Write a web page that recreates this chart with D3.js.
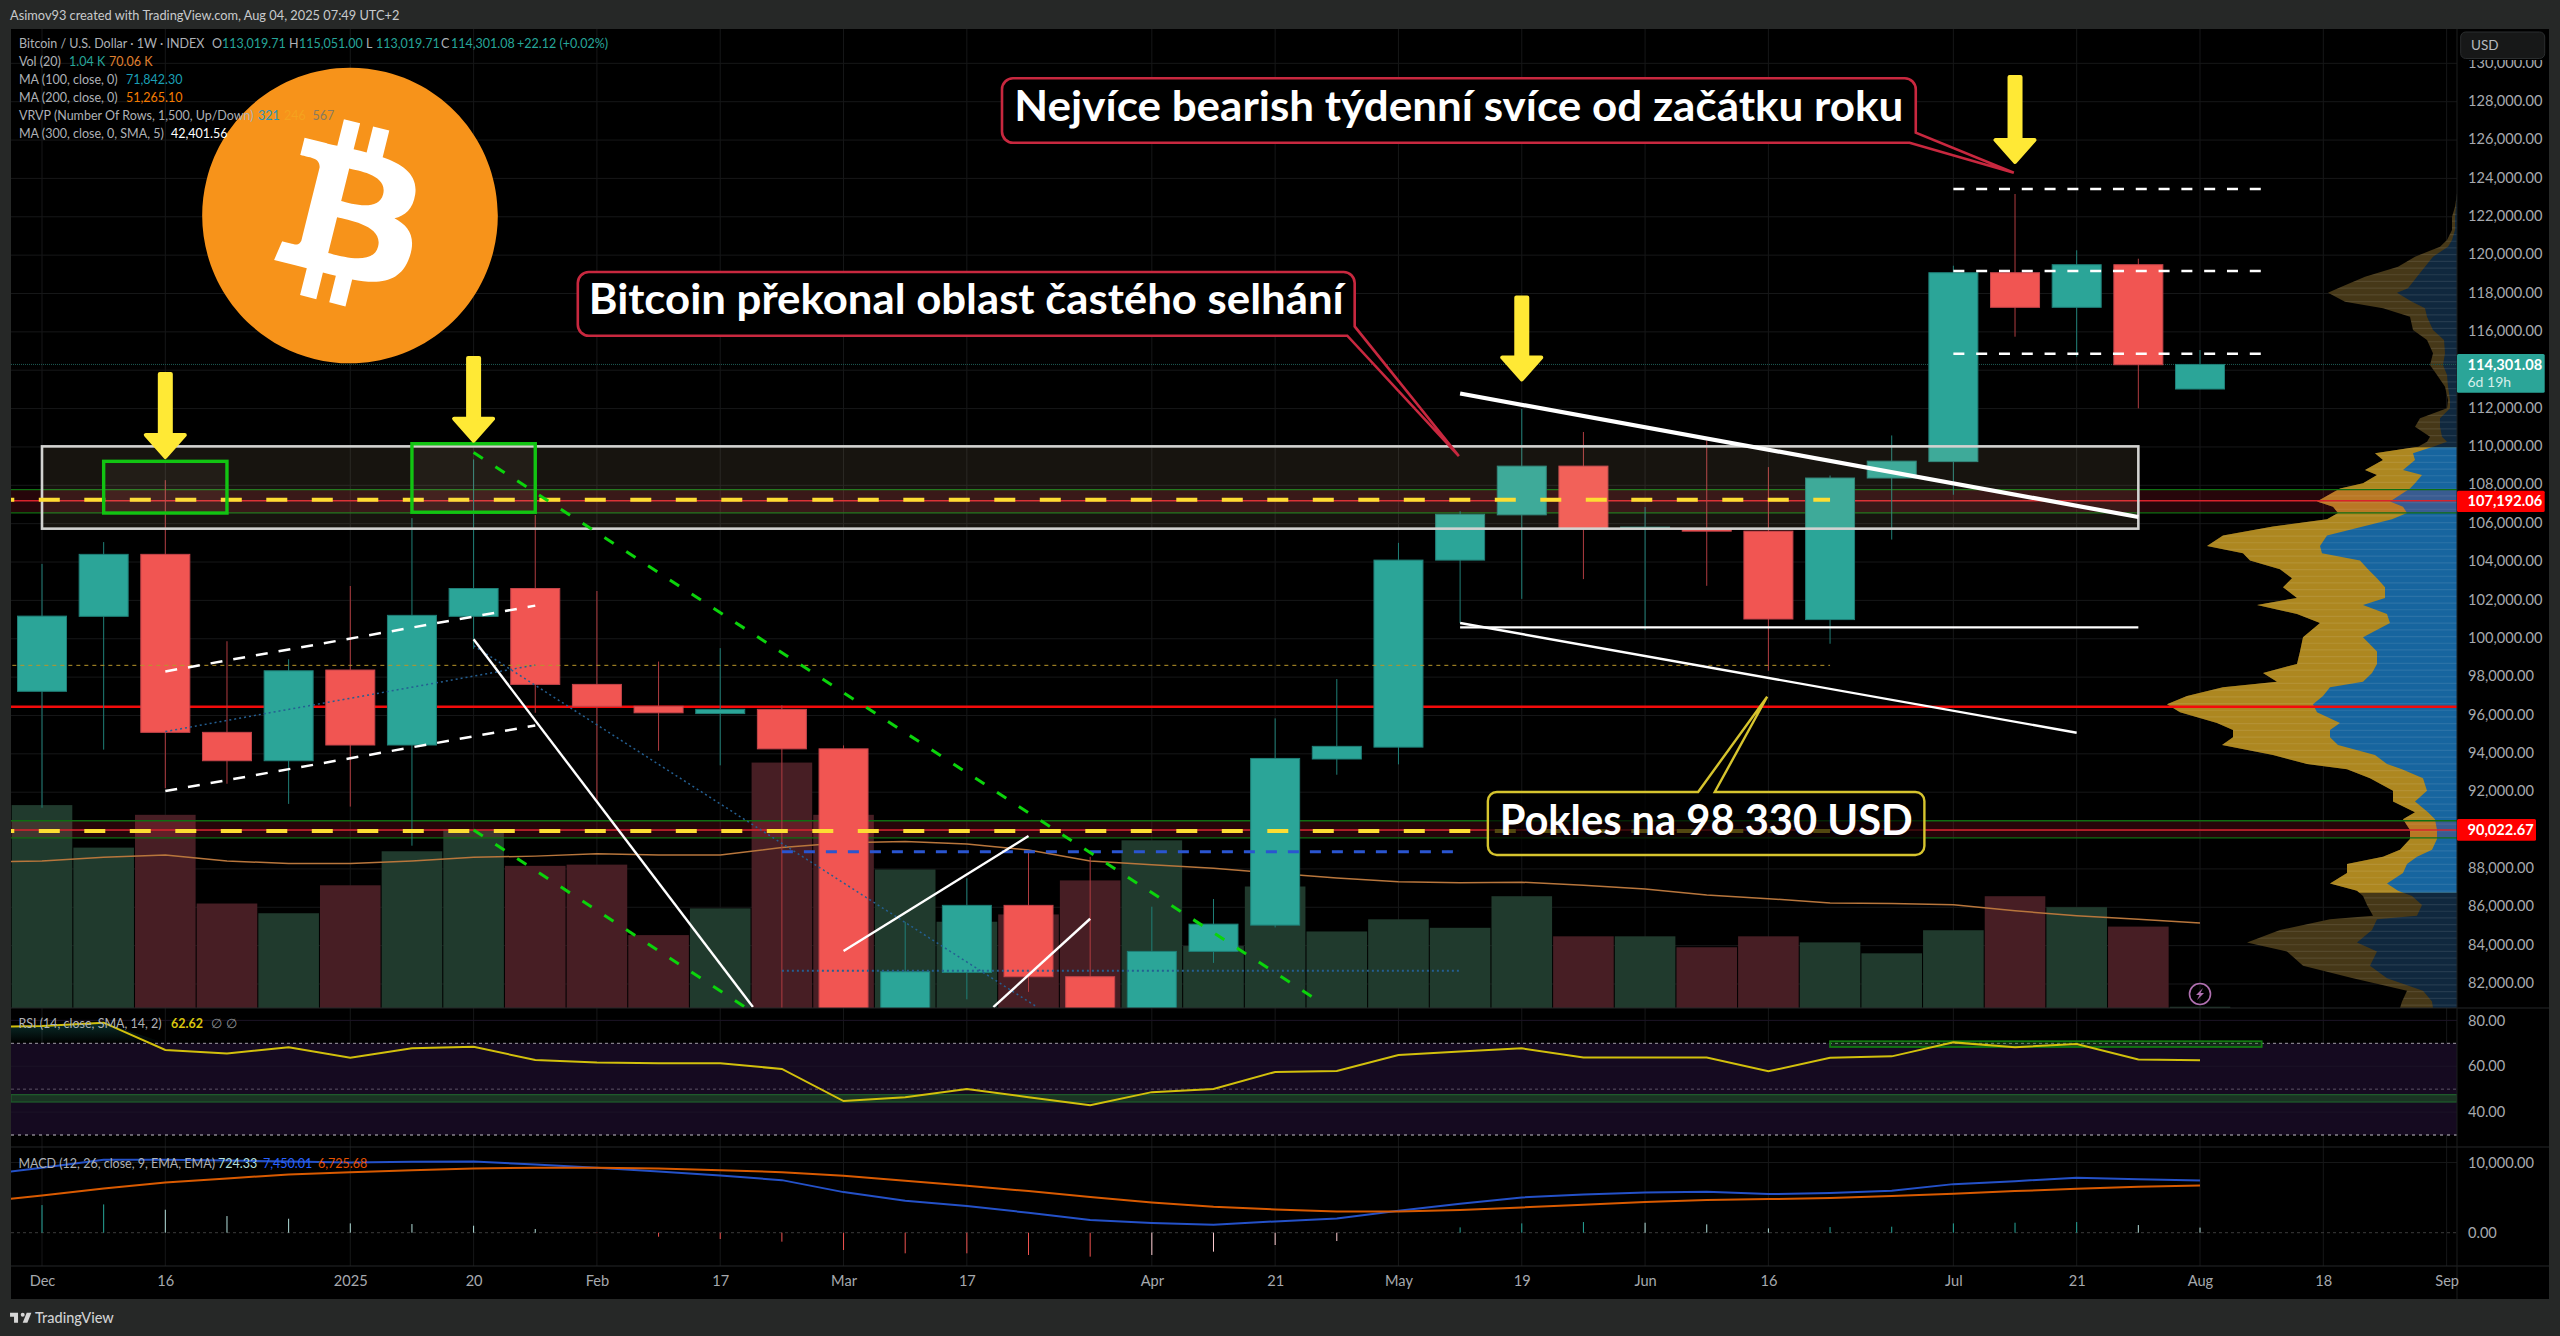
<!DOCTYPE html>
<html>
<head>
<meta charset="utf-8">
<title>BTC weekly</title>
<script src="https://cdnjs.cloudflare.com/ajax/libs/d3/7.8.5/d3.min.js"></script>
<style>
  html, body { margin: 0; background: #262827; }
  svg { display: block; }
  text { font-family: "Lato", "Noto Sans", sans-serif; }
</style>
</head>
<body>
<script>
// weekly candles, index 0 = 2 Dec 2024
var opens  = [97260,101170,104400,95120,93640,98370,94460,101170,102620,97620,96480,96100,96320,94260,80700,82600,86100,82380,78300,83700,85070,93730,94350,104100,106460,109000,105720,105720,105610,101000,108380,109235,119084,117280,119501,113019.71];
var highs  = [103900,105040,108270,99870,98930,102750,106290,109350,106450,102490,98810,99510,96530,94440,85240,87510,88890,88630,86030,86430,95850,97900,105000,106650,111980,110780,106870,110340,108950,108510,110600,119449,123187,120252,119814,115051];
var lows   = [91190,94220,92210,92440,91390,91250,89210,99470,96140,91550,94160,93400,78250,76600,76600,81200,81590,74500,74600,83100,84950,92910,93450,100820,102080,103110,100450,102760,98330,99740,105170,107509,115747,114704,112014,113019.71];
var closes = [101180,104400,95120,93640,98330,94460,101220,102620,97620,96480,96140,96320,94260,80700,82640,86100,82380,78300,83700,85120,93760,94390,104100,106490,109000,105720,105820,105610,101030,108380,109260,119084,117280,119501,114287,114301.08];

var volumes = [167,132,159,86,78,101,129,147,117,118,60,82,202,159,114,71,77,105,138,51,100,63,73,66,92,59,59,50,59,54,45,64,92,83,67,1.04];
// these three start one week before the first candle (index -1)
var volumeMA = [120,121,124,126,121,119,119,121,124,125,127,126,126,132,136,137,135,130,121,118,115,111,107,104,103,103.5,101,98,93,90,86.5,86,85,80,76,73,70.06];
var rsiValues = [77,77.6,79,67.1,65.6,68.3,63.7,67.8,68.5,62.7,61.6,61.3,61.3,58.8,44.8,46.5,50.1,46.5,43,48.7,50.1,57.5,57.9,64.9,66.4,67.8,63.8,63.8,63.8,57.8,63.7,64.3,70.4,68.3,69.7,62.9,62.62];
var macdValues = [8200,9242,10379,10379,10284,10142,10000,10095,10142,9716,9242,8720,8152,7488,5782,4550,3791,2844,1801,1374,1137,1611,2038,3128,4123,5024,5450,5735,5829,5498,5660,5972,6919,7346,7820,7630,7450.01];
var signalValues = [4400,5308,6303,7156,7725,8294,8626,8910,9147,9242,9242,9147,8910,8626,8104,7393,6682,5924,5071,4313,3697,3318,3033,3033,3223,3602,3981,4360,4645,4787,4950,5213,5545,5924,6256,6540,6725.68];
var macdHist = [3934,4028,3270,2370,1990,1327,1232,995,521,-47,-569,-900,-1280,-2464,-2938,-2938,-3175,-3412,-3175,-2701,-1754,-1185,0,758,1327,1516,1422,1185,616,800,853,1327,1422,1516,1090,724.33];

var priceTicks = d3.range(82000, 130001, 2000);
var rsiTicks = [80, 60, 40];
var macdTicks = [10000, 0];
var timeTickIdx = [0,2,5,7,9,11,13,15,18,20,22,24,26,28,31,33,35,37,39];
var timeTickLabels = ["Dec","16","2025","20","Feb","17","Mar","17","Apr","21","May","19","Jun","16","Jul","21","Aug","18","Sep"];

// visible range volume profile: price level, up volume, total volume
var vpPrice = [123170,122474,121953,121258,120736,120389,119867,119346,118825,118216,117990,117521,117174,116739,116044,115522,114827,114219,113698,113089,112394,111960,111438,111004,110482,110221,109961,109613,109266,108744,108483,108049,107788,107106,106827,106510,106175,105802,105337,104778,104406,104033,103568,103103,102637,102078,101706,101241,100775,100030,99285,98634,98168,97703,97423,96958,96529,96120,95561,95189,94817,94407,93886,93420,93141,92676,92024,91465,90907,90534,89976,89510,88952,88579,88207,87741,87182,86810,86531,86065,85507,85321,84762,84110,83645,82900,82249,81597,81038,80703];
var vpUp = [0,1,2,2,5,9,24,32,40,49,60,45,32,30,24,13,12,14,10,9,7,7,17,17,15,10,24,44,42,54,35,42,47,67,54,50,65,94,130,137,135,97,89,80,72,72,94,70,67,94,80,80,85,94,127,134,144,140,117,127,127,119,82,70,55,34,30,42,29,22,20,20,25,40,50,54,70,59,45,35,40,80,85,100,80,87,70,34,25,24];
var vpTotal = [0,2,5,5,10,17,42,59,92,119,129,112,74,47,44,30,24,27,20,12,9,10,37,42,27,30,39,82,74,92,80,94,117,140,124,119,130,184,234,250,214,207,177,165,174,160,200,160,137,154,157,160,194,180,234,270,290,277,240,224,224,235,184,150,110,87,64,64,42,54,47,47,57,74,110,110,127,100,94,90,84,127,177,210,170,154,104,50,55,57];

// horizontal levels
var pocPrice = 96455;
var zoneTop = {low: 106560, mid: 107192.06, high: 107780};
var zoneBottom = {low: 89620, mid: 90022.67, high: 90510};
var lastPrice = 114301.08;
var dottedYellowPrice = 98614;

// drawings in chart coordinates: [week, price, week, price]
var whiteBox = [0, 110030, 34, 105740];
var greenBoxes = [[1, 109250, 3, 106555], [6, 110168, 8, 106597]];
var arrows = [[2, 109318, 113907], [7, 110168, 114741], [24, 113364, 117890], [32, 124700, 129392]];
var channelDashed = [[2, 98296, 8, 101727], [2, 92060, 8, 95480]];
var channelMid = [2, 95162, 8, 98630];
var whiteThin = [[7, 99970, 11.53, 80800], [13, 83718, 16, 89713], [15.43, 80800, 17, 85402], [23, 100819, 33, 95100], [23, 100595, 34, 100595]];
var whiteThick = [23, 112786, 34, 106346];
var greenDashed = [[7, 109709, 20.75, 81022], [7, 90027, 11.4, 80800]];
var blueDotted = [[7, 99636, 16.13, 80818], [12, 82690, 23, 82690]];
var blueDashed = [12, 88895, 22.9, 88895];
var levelDashes = [123448, 119173, 114861];
var rsiGreenBox = [29, 70.9, 36, 68.4];
var rsiBand = [47.6, 44.4];

var callouts = [
  {text: "Nejvíce bearish týdenní svíce od začátku roku", x0: 15.57, x1: 30.39, top: 129220, bot: 125862, sideP: 126384, baseX: 30.29, tipX: 31.98, tipP: 124298, color: "#c8283f", len: 889},
  {text: "Bitcoin překonal oblast častého selhání", x0: 8.69, x1: 21.29, top: 119120, bot: 115799, sideP: 116284, baseX: 21.17, tipX: 22.98, tipP: 109527, color: "#c8283f", len: 755}
];
var callout3 = {text: "Pokles na 98 330 USD", x0: 23.45, x1: 30.53, top: 92009, bot: 88724, baseA: 26.86, baseB: 27.13, tipX: 27.98, tipP: 96977, len: 413};

var W = 2560, H = 1336;
var paneL = 11, paneR = 2457, axisR = 2549, paneT = 29;
var mainB = 1008, rsiB = 1147, macdB = 1266, timeB = 1299;
var teal = "#2ba598", red = "#f15552";
var axisColor = "#a6a9ae";

var svg = d3.select("body").append("svg").attr("width", W).attr("height", H);

var x = d3.scaleLinear().domain([0, 35]).range([42, 2200]);
var y = d3.scaleLinear().domain([82000, 128000]).range([984, 101.7]);
var yVol = d3.scaleLinear().domain([0, 100]).range([mainB, mainB - 121.5]);
var yRsi = d3.scaleLinear().domain([30, 70]).range([1135, 1043.3]);
var yMacd = d3.scaleLinear().domain([0, 10000]).range([1232.7, 1162.5]);
var xVp = d3.scaleLinear().domain([0, 300]).range([paneR, paneR - 300]);

// background + black chart
svg.append("rect").attr("width", W).attr("height", H).attr("fill", "#262827");
svg.append("rect").attr("x", paneL).attr("y", paneT).attr("width", axisR - paneL).attr("height", timeB - paneT).attr("fill", "#000");

var defs = svg.append("defs");
function addClip(id, x0, y0, x1, y1) {
  defs.append("clipPath").attr("id", id).append("rect")
    .attr("x", x0).attr("y", y0).attr("width", x1 - x0).attr("height", y1 - y0);
}
addClip("mainClip", paneL, paneT, paneR, mainB);
addClip("rsiClip", paneL, mainB, paneR, rsiB);
addClip("macdClip", paneL, rsiB, paneR, macdB);
addClip("vaClip", paneL, y(109980), paneR, y(86760));

var grad = defs.append("linearGradient").attr("id", "obFill").attr("x1", 0).attr("x2", 0).attr("y1", 0).attr("y2", 1);
grad.append("stop").attr("offset", "0%").attr("stop-color", "#26a69a").attr("stop-opacity", 0.28);
grad.append("stop").attr("offset", "100%").attr("stop-color", "#26a69a").attr("stop-opacity", 0);

// grid
var grid = svg.append("g").attr("stroke", "#161718").attr("stroke-width", 1);
grid.selectAll("line.v").data(timeTickIdx).enter().append("line").attr("class", "v")
  .attr("x1", function (d) { return x(d); }).attr("x2", function (d) { return x(d); })
  .attr("y1", paneT).attr("y2", macdB);
grid.selectAll("line.h").data(priceTicks).enter().append("line").attr("class", "h")
  .attr("x1", paneL).attr("x2", paneR)
  .attr("y1", function (d) { return y(d); }).attr("y2", function (d) { return y(d); });

// main pane
var main = svg.append("g").attr("clip-path", "url(#mainClip)");

// volume
main.selectAll("rect.vol").data(volumes).enter().append("rect").attr("class", "vol")
  .attr("x", function (d, i) { return x(i) - 30.3; })
  .attr("y", function (d) { return yVol(d); })
  .attr("width", 60.6)
  .attr("height", function (d) { return mainB - yVol(d); })
  .attr("fill", function (d, i) { return closes[i] >= opens[i] ? "#203a2d" : "#471e24"; });

main.append("path")
  .attr("d", d3.line().x(function (d, i) { return x(i - 1); }).y(function (d) { return yVol(d); })(volumeMA))
  .attr("fill", "none").attr("stroke", "#b8763c").attr("stroke-width", 1.5);

// volume profile
var vpRows = vpPrice.map(function (p, i) { return {p: p, up: vpUp[i], total: vpTotal[i]}; });
var vpArea = d3.area().y(function (d) { return y(d.p) - 1; }).x0(paneR);
function drawProfile(g, gold, blue) {
  g.append("path").attr("d", vpArea.x1(function (d) { return xVp(d.total); })(vpRows)).attr("fill", gold);
  g.append("path").attr("d", vpArea.x1(function (d) { return xVp(d.up); })(vpRows)).attr("fill", blue);
}
drawProfile(main, "#463818", "#10283e");
var va = main.append("g").attr("clip-path", "url(#vaClip)");
drawProfile(va, "#ad8720", "#17659f");

// lighter row stripes inside the profile
defs.append("clipPath").attr("id", "vpClip").append("path")
  .attr("d", vpArea.x1(function (d) { return xVp(d.total); })(vpRows));
main.append("g").attr("clip-path", "url(#vpClip)")
  .selectAll("line").data(d3.range(y(123170), mainB, 6.7)).enter().append("line")
  .attr("x1", paneR - 300).attr("x2", paneR)
  .attr("y1", function (d) { return d; }).attr("y2", function (d) { return d; })
  .attr("stroke", "#fff").attr("stroke-opacity", 0.09).attr("stroke-width", 1.2);

// bands and red lines
function drawZone(z) {
  main.append("rect").attr("x", paneL).attr("width", paneR - paneL)
    .attr("y", y(z.high)).attr("height", y(z.low) - y(z.high)).attr("fill", "#ff2a40").attr("fill-opacity", 0.15);
  [z.high, z.low].forEach(function (p) {
    main.append("line").attr("x1", paneL).attr("x2", paneR).attr("y1", y(p)).attr("y2", y(p))
      .attr("stroke", "#0f6e12").attr("stroke-width", 1.3);
  });
  main.append("line").attr("x1", paneL).attr("x2", paneR).attr("y1", y(z.mid)).attr("y2", y(z.mid))
    .attr("stroke", "#d8232c").attr("stroke-width", 1.5);
}
drawZone(zoneTop);
drawZone(zoneBottom);
main.append("line").attr("x1", paneL).attr("x2", paneR).attr("y1", y(pocPrice)).attr("y2", y(pocPrice))
  .attr("stroke", "#f30b0b").attr("stroke-width", 2.5);
main.append("line").attr("x1", paneL).attr("x2", paneR).attr("y1", y(lastPrice)).attr("y2", y(lastPrice))
  .attr("stroke", "#1c5a52").attr("stroke-width", 1).attr("stroke-dasharray", "1,1");

// candles
main.selectAll("line.wick").data(opens).enter().append("line").attr("class", "wick")
  .attr("x1", function (d, i) { return x(i); }).attr("x2", function (d, i) { return x(i); })
  .attr("y1", function (d, i) { return y(highs[i]); }).attr("y2", function (d, i) { return y(lows[i]); })
  .attr("stroke", function (d, i) { return closes[i] >= d ? "#1f7f77" : "#b03c40"; })
  .attr("stroke-width", 1);
main.selectAll("rect.body").data(opens).enter().append("rect").attr("class", "body")
  .attr("x", function (d, i) { return x(i) - 24.5; })
  .attr("width", 49)
  .attr("y", function (d, i) { return y(Math.max(d, closes[i])); })
  .attr("height", function (d, i) { return Math.max(1, Math.abs(y(d) - y(closes[i]))); })
  .attr("fill", function (d, i) { return closes[i] >= d ? teal : red; })
  .attr("stroke", function (d, i) { return closes[i] >= d ? "#1f7f77" : "#c5444a"; })
  .attr("stroke-width", 1);

// drawings
function seg(g, s, color, width, dash) {
  var l = g.append("line")
    .attr("x1", x(s[0])).attr("y1", y(s[1])).attr("x2", x(s[2])).attr("y2", y(s[3]))
    .attr("stroke", color).attr("stroke-width", width);
  if (dash) l.attr("stroke-dasharray", dash);
  return l;
}
function box(g, b, fill, stroke, width) {
  g.append("rect").attr("x", x(b[0])).attr("y", y(b[1]))
    .attr("width", x(b[2]) - x(b[0])).attr("height", y(b[3]) - y(b[1]))
    .attr("fill", fill).attr("stroke", stroke).attr("stroke-width", width);
}
var draw = svg.append("g").attr("clip-path", "url(#mainClip)");

box(draw, whiteBox, "rgba(255,225,170,0.09)", "#d2d2d0", 2.6);
seg(draw, [-1, dottedYellowPrice, 29, dottedYellowPrice], "#b8962a", 1, "4,4");
seg(draw, [-0.79, zoneTop.mid + 60, 29, zoneTop.mid + 60], "#fddd33", 4, "21,24.5");
seg(draw, [-0.79, zoneBottom.mid - 50, 29, zoneBottom.mid - 50], "#fddd33", 4, "21,24.5");

greenBoxes.forEach(function (b) { box(draw, b, "rgba(255,225,170,0.05)", "#12c412", 3.4); });
channelDashed.forEach(function (s) { seg(draw, s, "#fff", 2.5, "12,11"); });
seg(draw, channelMid, "#245f92", 1.5, "2,3");
blueDotted.forEach(function (s, i) { seg(draw, s, "#245f92", i ? 2 : 1.5, "2,3"); });
seg(draw, blueDashed, "#2a55d0", 3, "11,11");
greenDashed.forEach(function (s) { seg(draw, s, "#0bd40b", 3, "11,15"); });
whiteThin.forEach(function (s) { seg(draw, s, "#fff", 2.4); });
seg(draw, whiteThick, "#fff", 4.2);
levelDashes.forEach(function (p) { seg(draw, [31, p, 36, p], "#fff", 2.5, "11,11.8"); });

// yellow arrows
arrows.forEach(function (a) {
  var cx = x(a[0]), tip = y(a[1]) - 3, tail = y(a[2]) + 2, hw = 19.5, sw = 5.5, hy = tip - 22;
  draw.append("path")
    .attr("d", d3.line()([[cx - sw, tail], [cx + sw, tail], [cx + sw, hy], [cx + hw, hy], [cx, tip], [cx - hw, hy], [cx - sw, hy]]) + "Z")
    .attr("fill", "#ffe935").attr("stroke", "#ffe935").attr("stroke-width", 4).attr("stroke-linejoin", "round");
});

// callouts
function calloutText(c, cy, size) {
  svg.append("text").attr("x", (x(c.x0) + x(c.x1)) / 2).attr("y", cy)
    .attr("text-anchor", "middle").attr("fill", "#fff")
    .attr("font-size", size).attr("font-weight", 700)
    .attr("textLength", c.len).attr("lengthAdjust", "spacingAndGlyphs")
    .text(c.text);
}
callouts.forEach(function (c) {
  var l = x(c.x0), r = x(c.x1), t = y(c.top), b = y(c.bot), rad = 11;
  var p = d3.path();
  p.moveTo(l + rad, t);
  p.lineTo(r - rad, t);
  p.arcTo(r, t, r, t + rad, rad);
  p.lineTo(r, y(c.sideP));
  p.lineTo(x(c.tipX), y(c.tipP));
  p.lineTo(x(c.baseX), b);
  p.lineTo(l + rad, b);
  p.arcTo(l, b, l, b - rad, rad);
  p.lineTo(l, t + rad);
  p.arcTo(l, t, l + rad, t, rad);
  p.closePath();
  svg.append("path").attr("d", p.toString()).attr("fill", "#000").attr("stroke", c.color).attr("stroke-width", 2.6);
  calloutText(c, b - 21.5, 42);
});
(function () {
  var c = callout3, l = x(c.x0), r = x(c.x1), t = y(c.top), b = y(c.bot), rad = 9;
  var p = d3.path();
  p.moveTo(l + rad, t);
  p.lineTo(x(c.baseA), t);
  p.lineTo(x(c.tipX), y(c.tipP));
  p.lineTo(x(c.baseB), t);
  p.lineTo(r - rad, t);
  p.arcTo(r, t, r, t + rad, rad);
  p.lineTo(r, b - rad);
  p.arcTo(r, b, r - rad, b, rad);
  p.lineTo(l + rad, b);
  p.arcTo(l, b, l, b - rad, rad);
  p.lineTo(l, t + rad);
  p.arcTo(l, t, l + rad, t, rad);
  p.closePath();
  svg.append("path").attr("d", p.toString()).attr("fill", "rgba(0,0,0,0.68)").attr("stroke", "#d6c42e").attr("stroke-width", 2.4);
  calloutText(c, b - 20.5, 42);
})();

// bitcoin logo
var logo = svg.append("g").attr("transform", "translate(" + (350 - 32 * 4.62) + "," + (215.5 - 32 * 4.62) + ") scale(4.62)");
logo.append("path").attr("fill", "#f7931a").attr("d", "M63.04 39.741c-4.274 17.143-21.638 27.575-38.783 23.301C7.12 58.768-3.313 41.404.962 24.262 5.234 7.117 22.597-3.317 39.737.957c17.144 4.274 27.576 21.64 23.302 38.784z");
logo.append("path").attr("fill", "#fff").attr("d", "M46.11 27.441c.636-4.258-2.606-6.547-7.039-8.074l1.438-5.768-3.512-.875-1.4 5.616c-.922-.23-1.87-.447-2.812-.662l1.41-5.653-3.509-.875-1.439 5.766c-.764-.174-1.514-.346-2.242-.527l.004-.018-4.842-1.209-.934 3.75s2.605.597 2.55.634c1.422.355 1.68 1.296 1.636 2.042l-1.638 6.571c.098.025.225.061.365.117l-.37-.092-2.297 9.205c-.174.432-.615 1.08-1.609.834.035.051-2.552-.637-2.552-.637l-1.743 4.02 4.57 1.139c.85.213 1.683.436 2.502.646l-1.453 5.835 3.507.875 1.44-5.772c.957.26 1.887.5 2.797.726L27.504 50.8l3.511.875 1.453-5.823c5.987 1.133 10.49.676 12.383-4.738 1.527-4.36-.075-6.875-3.225-8.516 2.294-.531 4.022-2.04 4.483-5.157zM38.087 38.69c-1.086 4.36-8.426 2.004-10.807 1.412l1.928-7.729c2.38.594 10.011 1.77 8.88 6.317zm1.085-11.312c-.99 3.966-7.1 1.951-9.083 1.457l1.748-7.01c1.983.494 8.367 1.416 7.335 5.553z");

// lightning marker
svg.append("circle").attr("cx", x(35)).attr("cy", 994).attr("r", 10.5).attr("fill", "none").attr("stroke", "#b070b0").attr("stroke-width", 1.6);
svg.append("path").attr("transform", "translate(" + x(35) + ",994)").attr("d", "M3-6L-4 1H-.5L-3 6L4-1H.5z").attr("fill", "#b070b0");

// RSI pane
var rsi = svg.append("g").attr("clip-path", "url(#rsiClip)");
rsi.append("rect").attr("x", paneL).attr("width", paneR - paneL).attr("y", yRsi(70)).attr("height", yRsi(30) - yRsi(70)).attr("fill", "#150a20");
rsi.selectAll("line.g").data(rsiTicks).enter().append("line").attr("class", "g")
  .attr("x1", paneL).attr("x2", paneR)
  .attr("y1", function (d) { return yRsi(d); }).attr("y2", function (d) { return yRsi(d); })
  .attr("stroke", "#1c1426");
rsi.append("rect").attr("x", paneL).attr("width", paneR - paneL)
  .attr("y", yRsi(rsiBand[0])).attr("height", yRsi(rsiBand[1]) - yRsi(rsiBand[0]))
  .attr("fill", "#1a3423").attr("stroke", "#1e5a2b").attr("stroke-width", 1.3);
rsi.append("line").attr("x1", paneL).attr("x2", paneR).attr("y1", yRsi(70)).attr("y2", yRsi(70)).attr("stroke", "#a09ca6").attr("stroke-dasharray", "3,3");
rsi.append("line").attr("x1", paneL).attr("x2", paneR).attr("y1", yRsi(50)).attr("y2", yRsi(50)).attr("stroke", "#5c5366").attr("stroke-dasharray", "3,3");
rsi.append("line").attr("x1", paneL).attr("x2", paneR).attr("y1", yRsi(30)).attr("y2", yRsi(30)).attr("stroke", "#86828c").attr("stroke-width", 1.5).attr("stroke-dasharray", "3,4");
rsi.append("path")
  .attr("d", d3.area().x(function (d, i) { return x(i - 1); }).y0(yRsi(70)).y1(function (d) { return yRsi(Math.max(d, 70)); })(rsiValues))
  .attr("fill", "url(#obFill)");
rsi.append("rect").attr("x", x(rsiGreenBox[0])).attr("width", x(rsiGreenBox[2]) - x(rsiGreenBox[0]))
  .attr("y", yRsi(rsiGreenBox[1])).attr("height", yRsi(rsiGreenBox[3]) - yRsi(rsiGreenBox[1]))
  .attr("fill", "rgba(20,120,20,0.3)").attr("stroke", "#127a12").attr("stroke-width", 1.8);
rsi.append("path")
  .attr("d", d3.line().x(function (d, i) { return x(i - 1); }).y(function (d) { return yRsi(d); })(rsiValues))
  .attr("fill", "none").attr("stroke", "#d2c00c").attr("stroke-width", 2);

// MACD pane
var macd = svg.append("g").attr("clip-path", "url(#macdClip)");
macd.append("line").attr("x1", paneL).attr("x2", paneR).attr("y1", yMacd(10000)).attr("y2", yMacd(10000)).attr("stroke", "#161718");
macd.append("line").attr("x1", paneL).attr("x2", paneR).attr("y1", yMacd(0)).attr("y2", yMacd(0)).attr("stroke", "#3a3a3a").attr("stroke-dasharray", "3,3");
macd.selectAll("line.hist").data(macdHist).enter().append("line").attr("class", "hist")
  .attr("x1", function (d, i) { return x(i); }).attr("x2", function (d, i) { return x(i); })
  .attr("y1", yMacd(0)).attr("y2", function (d) { return yMacd(d); })
  .attr("stroke", function (d, i) {
    var prev = i > 0 ? macdHist[i - 1] : 0;
    if (d >= 0) return d >= prev ? "#26a69a" : "#b2dfdb";
    return d <= prev ? "#ef5350" : "#ffcdd2";
  });
var lineMacd = d3.line().x(function (d, i) { return x(i - 1); }).y(function (d) { return yMacd(d); });
macd.append("path").attr("d", lineMacd(macdValues)).attr("fill", "none").attr("stroke", "#2451c8").attr("stroke-width", 2);
macd.append("path").attr("d", lineMacd(signalValues)).attr("fill", "none").attr("stroke", "#d95a00").attr("stroke-width", 2);

// separators
[mainB, rsiB, macdB].forEach(function (yy) {
  svg.append("line").attr("x1", paneL).attr("x2", axisR).attr("y1", yy).attr("y2", yy).attr("stroke", "#242628").attr("stroke-width", 1.2);
});
svg.append("line").attr("x1", paneR).attr("x2", paneR).attr("y1", paneT).attr("y2", timeB).attr("stroke", "#1c1e1f");

// axes
function styleAxis(g) {
  g.select(".domain").remove();
  g.selectAll("line").remove();
  g.selectAll("text").attr("fill", axisColor).attr("font-size", 14.6);
}
svg.append("g").attr("transform", "translate(" + paneR + ",-1)")
  .call(d3.axisRight(y).tickValues(priceTicks).tickFormat(d3.format(",.2f")).tickSize(0).tickPadding(11))
  .call(styleAxis);
svg.append("g").attr("transform", "translate(" + paneR + ",0)")
  .call(d3.axisRight(yRsi).tickValues(rsiTicks).tickFormat(d3.format(".2f")).tickSize(0).tickPadding(11))
  .call(styleAxis);
svg.append("g").attr("transform", "translate(" + paneR + ",0)")
  .call(d3.axisRight(yMacd).tickValues(macdTicks).tickFormat(d3.format(",.2f")).tickSize(0).tickPadding(11))
  .call(styleAxis);
svg.append("g").attr("transform", "translate(0,1276)")
  .call(d3.axisBottom(x).tickValues(timeTickIdx).tickFormat(function (d, i) { return timeTickLabels[i]; }).tickSize(0).tickPadding(0))
  .call(styleAxis);

// USD button covers the clipped top tick
svg.append("rect").attr("x", paneR + 1).attr("y", paneT).attr("width", axisR - paneR - 1).attr("height", 31).attr("fill", "#000");
svg.append("rect").attr("x", 2460.7).attr("y", 32).attr("width", 84).attr("height", 26.5).attr("rx", 5)
  .attr("fill", "#171818").attr("stroke", "#2a2d2e");
svg.append("text").attr("x", 2471).attr("y", 50).attr("fill", "#b8bbc0").attr("font-size", 13.5).text("USD");

// price badges
function badge(price, label, x1, y0, y1, color) {
  svg.append("rect").attr("x", paneR).attr("y", y0).attr("width", x1 - paneR).attr("height", y1 - y0).attr("fill", color).attr("rx", 1.5);
  svg.append("text").attr("x", paneR + 10.5).attr("y", y(price)).attr("dy", "0.35em").attr("fill", "#fff").attr("font-size", 14.6).attr("font-weight", 700).text(label);
}
badge(lastPrice, "114,301.08", 2544.7, 354, 392.7, teal);
svg.append("text").attr("x", paneR + 10.5).attr("y", 387).attr("fill", "#d5efeb").attr("font-size", 14).text("6d 19h");
badge(zoneTop.mid, "107,192.06", 2544.7, 490.7, 512, "#fe0000");
badge(zoneBottom.mid, "90,022.67", 2536, 819, 840.7, "#fe0000");

// legend
function label(px, py, txt, color, size, weight) {
  svg.append("text").attr("x", px).attr("y", py).attr("dy", "0.35em")
    .attr("fill", color).attr("font-size", size || 12.5).attr("font-weight", weight || 400).text(txt);
}
var gray = "#aeb1b6";
label(10, 16, "Asimov93 created with TradingView.com, Aug 04, 2025 07:49 UTC+2", "#c8cacc", 12.8);
label(19, 44, "Bitcoin / U.S. Dollar · 1W · INDEX", gray);
[["O", "113,019.71", 212], ["H", "115,051.00", 289], ["L", "113,019.71", 366], ["C", "114,301.08", 441]].forEach(function (r) {
  label(r[2], 44, r[0], gray);
  label(r[2] + 10, 44, r[1], "#26a69a");
});
label(517, 44, "+22.12 (+0.02%)", "#26a69a");
label(19, 62, "Vol (20)", gray);
label(69, 62, "1.04 K", "#26a69a");
label(109, 62, "70.06 K", "#e0802e");
label(19, 80, "MA (100, close, 0)", gray);
label(126, 80, "71,842.30", "#1a9fb5");
label(19, 98, "MA (200, close, 0)", gray);
label(126, 98, "51,265.10", "#f57c00");
label(19, 116, "VRVP (Number Of Rows, 1,500, Up/Down)", gray);
label(258, 116, "321", "#2a93b8");
label(284, 116, "246", "#f5a21e");
label(312.5, 116, "567", "#8a7a5e");
label(19, 134, "MA (300, close, 0, SMA, 5)", gray);
label(171, 134, "42,401.56", "#fff");
label(18.4, 1024, "RSI (14, close, SMA, 14, 2)", gray);
label(171, 1024, "62.62", "#d8c60e", 12.5, 700);
label(211, 1024, "∅", "#8d9094");
label(226, 1024, "∅", "#8d9094");
label(18.4, 1163.7, "MACD (12, 26, close, 9, EMA, EMA)", gray);
label(218, 1163.7, "724.33", "#b2dfdb");
label(263, 1163.7, "7,450.01", "#2962ff");
label(318, 1163.7, "6,725.68", "#e65100");

// TradingView footer
svg.append("path").attr("transform", "translate(8.7,1308.7) scale(0.667)").attr("fill", "#d6d6d6")
  .attr("d", "M14 6H2v6h6v9h6V6zm14 15h-7l6-15h7l-6 15zm-7-9a3 3 0 1 0 0-6 3 3 0 0 0 0 6z");
label(35, 1318, "TradingView", "#d0d1d2", 14.5, 500);
</script>
</body>
</html>
